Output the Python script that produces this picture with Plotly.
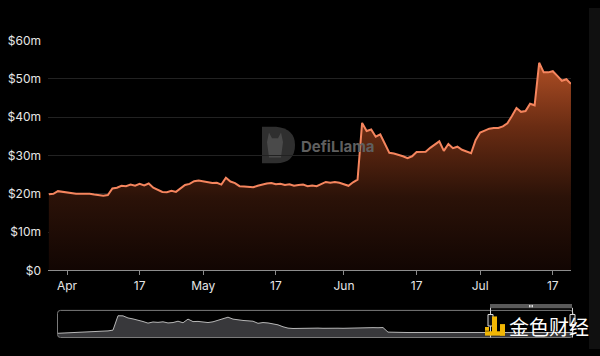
import plotly.graph_objects as go
import pandas as pd

# ---------------- data ----------------
start_date = "2024-03-28"
tvl_values = [
    19.9, 20.0, 20.7, 20.5, 20.2, 20.1, 20.0, 20.0, 20.0, 20.0,
    19.8, 19.6, 19.5, 19.7, 21.4, 21.6, 22.1, 22.0, 22.4, 22.1,
    22.6, 22.2, 22.7, 21.6, 21.0, 20.5, 20.4, 20.8, 20.5, 21.5,
    22.3, 22.6, 23.3, 23.5, 23.3, 23.0, 22.8, 22.9, 22.4, 24.2,
    23.2, 22.8, 22.0, 21.9, 21.8, 21.7, 22.1, 22.5, 22.7, 22.8,
    22.5, 22.6, 22.3, 22.5, 22.1, 22.3, 22.4, 22.0, 22.2, 22.0,
    22.6, 23.1, 22.9, 23.1, 22.9, 22.6, 22.1, 23.0, 23.7, 38.5,
    36.4, 36.8, 34.9, 35.5, 33.0, 30.7, 30.5, 30.2, 29.8, 29.3,
    29.8, 30.9, 31.0, 31.0, 32.0, 32.8, 33.7, 31.2, 33.0, 31.9,
    32.3, 31.5, 31.0, 30.6, 34.0, 36.0, 36.5, 37.0, 37.2, 37.2,
    37.6, 38.4, 40.3, 42.4, 41.4, 41.6, 43.5, 43.1, 54.2, 51.7,
    51.7, 52.0, 50.8, 49.5, 49.9, 48.7,
]
dates = pd.date_range(start_date, periods=len(tvl_values), freq="D")

y_tick_vals = [0, 10, 20, 30, 40, 50, 60]
y_tick_text = ["$0", "$10m", "$20m", "$30m", "$40m", "$50m", "$60m"]
x_tick_vals = ["2024-04-01", "2024-04-17", "2024-05-01", "2024-05-17",
               "2024-06-01", "2024-06-17", "2024-07-01", "2024-07-17"]
x_tick_text = ["Apr", "17", "May", "17", "Jun", "17", "Jul", "17"]

# navigator (overview) series
nav_values = [
    4.2, 4.4, 4.6, 4.8, 5.0, 5.3, 5.6, 5.8, 6.0, 6.3,
    6.7, 7.5, 22.5, 22.4, 20.2, 19.2, 18.0, 16.5, 14.8, 16.0,
    15.6, 16.2, 15.0, 15.4, 16.8, 15.2, 19.0, 16.4, 16.6, 16.0,
    15.4, 16.2, 17.6, 19.0, 21.0, 19.0, 18.0, 17.6, 17.2, 16.8,
    14.6, 15.4, 15.0, 14.0, 13.0, 11.0, 9.6, 9.2, 9.4, 9.5,
    9.7, 9.8, 9.6, 9.4, 9.2, 9.3, 9.5, 9.4, 9.6, 9.8,
    9.7, 9.9, 10.0, 10.1, 10.0, 10.2, 5.4, 5.1, 5.0, 5.1,
    5.0, 5.0, 5.1, 5.0, 4.9, 5.0, 5.0, 5.1, 5.0, 5.0,
    4.9, 5.0, 5.0, 5.0, 5.1, 5.0, 5.0, 4.9, 5.0, 5.0,
    5.0, 5.1, 5.0, 5.0, 5.0, 4.9, 5.0, 5.0, 5.0, 5.0,
    5.0, 5.0, 5.0, 5.0,
]

# ---------------- layout helpers ----------------
W, H = 600, 356
def px(x):
    return x / W
def py(y):
    return 1 - y / H

fig = go.Figure()

fig.add_trace(go.Scatter(
    x=dates, y=tvl_values, mode="lines",
    line=dict(color="#f5855e", width=2),
    fill="tozeroy",
    fillgradient=dict(type="vertical", start=0, stop=55,
                      colorscale=[[0, "#0e0402"], [0.38, "#2b1208"], [0.7, "#6a2c13"], [1, "#b04f25"]]),
    hoverinfo="skip", xaxis="x", yaxis="y",
))

fig.add_trace(go.Scatter(
    x=list(range(len(nav_values))), y=nav_values, mode="lines",
    line=dict(color="#b8b8b8", width=1),
    fill="tozeroy", fillcolor="#38383b",
    hoverinfo="skip", xaxis="x2", yaxis="y2",
))

font_family = "Inter, Roboto, sans-serif"

shapes = []
# right strip
shapes.append(dict(type="rect", xref="paper", yref="paper", x0=px(589), x1=1, y0=0, y1=1,
                   fillcolor="#101010", line=dict(width=0), layer="below"))

def rounded_rect(x0, y0, x1, y1, r):
    return (f"M {px(x0+r)} {py(y0)} L {px(x1-r)} {py(y0)} Q {px(x1)} {py(y0)} {px(x1)} {py(y0+r)} "
            f"L {px(x1)} {py(y1-r)} Q {px(x1)} {py(y1)} {px(x1-r)} {py(y1)} "
            f"L {px(x0+r)} {py(y1)} Q {px(x0)} {py(y1)} {px(x0)} {py(y1-r)} "
            f"L {px(x0)} {py(y0+r)} Q {px(x0)} {py(y0)} {px(x0+r)} {py(y0)} Z")

# DefiLlama watermark logo
shapes.append(dict(type="path", xref="paper", yref="paper",
                   path=(f"M {px(262)} {py(124)} L {px(276)} {py(124)} Q {px(295)} {py(126)} {px(295)} {py(143)} "
                         f"Q {px(295)} {py(162)} {px(276)} {py(162)} L {px(262)} {py(162)} Z"),
                   fillcolor="#2f2f2f", line=dict(width=0), layer="below"))
shapes.append(dict(type="path", xref="paper", yref="paper",
                   path=(f"M {px(269)} {py(130)} L {px(272)} {py(136)} L {px(278)} {py(136)} L {px(281)} {py(130)} "
                         f"L {px(283)} {py(140)} L {px(281)} {py(156)} L {px(269)} {py(156)} L {px(267)} {py(140)} Z"),
                   fillcolor="#4a4a4a", line=dict(width=0), layer="below"))

# navigator frame
shapes.append(dict(type="path", xref="paper", yref="paper",
                   path=rounded_rect(57.5, 315.7, 573, 344, 3),
                   fillcolor="rgba(0,0,0,0)", line=dict(color="#7a7a7a", width=1)))
# navigator handle bar
shapes.append(dict(type="rect", xref="paper", yref="paper",
                   x0=px(490), x1=px(572), y0=py(313.5), y1=py(309),
                   fillcolor="#5a5a5a", line=dict(width=0)))
for hx in (490.5, 572.5):
    shapes.append(dict(type="line", xref="paper", yref="paper",
                       x0=px(hx), x1=px(hx), y0=py(313), y1=py(344),
                       line=dict(color="#cfcfcf", width=1)))
    shapes.append(dict(type="rect", xref="paper", yref="paper",
                       x0=px(hx - 2.5), x1=px(hx + 2.5), y0=py(332), y1=py(320),
                       fillcolor="#111", line=dict(color="#dddddd", width=1)))
# grip marks on handle bar
for gx in (529.5, 531, 532.5):
    shapes.append(dict(type="line", xref="paper", yref="paper",
                       x0=px(gx), x1=px(gx), y0=py(312.5), y1=py(310),
                       line=dict(color="#dddddd", width=1)))
# yellow site logo
for (x0, y0, x1, y1) in [(485, 333, 489, 337), (492, 322, 497, 341), (485, 337.5, 505, 342), (500, 330, 505, 342)]:
    shapes.append(dict(type="rect", xref="paper", yref="paper",
                       x0=px(x0), x1=px(x1), y0=py(y1), y1=py(y0),
                       fillcolor="#f2b705", line=dict(width=0)))

annotations = [
    dict(text="<b>DefiLlama</b>", x=px(299), y=py(145), xref="paper", yref="paper",
         xanchor="left", yanchor="middle", showarrow=False,
         font=dict(family=font_family, size=15, color="#5f5f5f")),
    dict(text="金色财经", x=px(549), y=py(332), xref="paper", yref="paper",
         xanchor="center", yanchor="middle", showarrow=False,
         font=dict(family="Noto Sans CJK SC", size=20, color="#ffffff")),
]

fig.update_layout(
    width=W, height=H,
    margin=dict(l=0, r=0, t=0, b=0),
    paper_bgcolor="#000000", plot_bgcolor="#000000",
    showlegend=False, hovermode=False,
    font=dict(family=font_family, color="#e6e6e6", size=12),
    xaxis=dict(
        domain=[px(48), px(571)],
        range=["2024-03-27 19:33", "2024-07-21 00:15"],
        tickvals=x_tick_vals, ticktext=x_tick_text,
        showgrid=False, zeroline=False,
        showline=True, linecolor="#8c8c8c", linewidth=1,
        ticks="outside", ticklen=4, tickcolor="#8c8c8c",
        tickfont=dict(size=12, color="#e6e6e6"),
        anchor="y",
    ),
    yaxis=dict(
        domain=[py(274), py(34)],
        range=[0, 60],
        tickvals=y_tick_vals, ticktext=y_tick_text,
        showgrid=True, gridcolor="#222222", gridwidth=1,
        zeroline=False, showline=False, ticks="",
        ticklabelstandoff=6,
        tickfont=dict(size=12, color="#e6e6e6"),
        anchor="x",
    ),
    xaxis2=dict(domain=[px(58), px(573)], range=[0, len(nav_values) - 1],
                visible=False, anchor="y2"),
    yaxis2=dict(domain=[py(343.8), py(315.7)], range=[0, 28.1],
                visible=False, anchor="x2"),
    shapes=shapes,
    annotations=annotations,
)

fig.write_html(
    "out.html",
    config={"displayModeBar": False},
    post_script=("document.documentElement.style.margin='0';document.documentElement.style.overflow='hidden';"
                 "document.body.style.margin='0';document.body.style.padding='0';"
                 "document.body.style.overflow='hidden';document.body.style.background='#000';"),
)
